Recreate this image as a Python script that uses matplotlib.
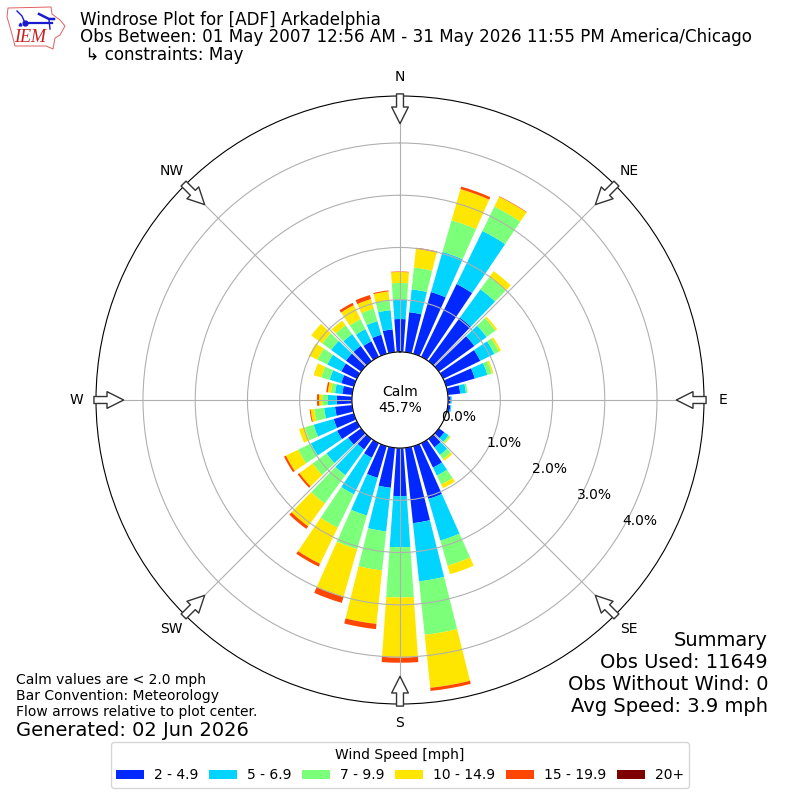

import matplotlib

matplotlib.use("Agg")
import matplotlib.pyplot as plt
import numpy as np
from matplotlib.patches import Polygon

DIRECTIONS = np.arange(0, 360, 10)
BIN_LABELS = ["2 - 4.9", "5 - 6.9", "7 - 9.9", "10 - 14.9", "15 - 19.9", "20+"]
BIN_COLORS = ["#0028ff", "#00d4ff", "#7cff79", "#ffe600", "#ff4600", "#7f0000"]

SPEED_2_5 = [0.63, 0.77, 1.23, 1.55, 1.03, 0.84, 0.79, 0.57, 0.24, 0.05, 0.05, 0.00,
             0.00, 0.13, 0.20, 0.52, 1.05, 1.45, 0.92, 0.77, 0.63, 0.31, 0.25, 0.31,
             0.42, 0.40, 0.33, 0.29, 0.19, 0.25, 0.33, 0.36, 0.36, 0.33, 0.38, 0.44]
SPEED_5_7 = [0.37, 0.44, 0.80, 1.13, 0.67, 0.29, 0.30, 0.25, 0.11, 0.02, 0.02, 0.00,
             0.00, 0.10, 0.18, 0.17, 0.83, 1.12, 0.98, 0.84, 0.75, 0.78, 0.61, 0.51,
             0.56, 0.40, 0.21, 0.17, 0.14, 0.23, 0.30, 0.35, 0.28, 0.26, 0.27, 0.37]
SPEED_7_10 = [0.32, 0.42, 0.63, 0.52, 0.29, 0.21, 0.10, 0.09, 0.03, 0.00, 0.00, 0.00,
              0.00, 0.03, 0.10, 0.19, 0.50, 1.03, 0.96, 0.75, 0.67, 0.71, 0.67, 0.33,
              0.27, 0.18, 0.19, 0.11, 0.08, 0.17, 0.21, 0.21, 0.21, 0.21, 0.25, 0.19]
SPEED_10_15 = [0.21, 0.36, 0.62, 0.21, 0.14, 0.04, 0.04, 0.03, 0.00, 0.00, 0.00, 0.00,
               0.00, 0.02, 0.04, 0.08, 0.17, 1.02, 1.15, 1.03, 0.95, 0.77, 0.54, 0.31,
               0.26, 0.11, 0.07, 0.06, 0.06, 0.15, 0.18, 0.26, 0.11, 0.30, 0.19, 0.17]
SPEED_15_20 = [0.01, 0.02, 0.05, 0.01, 0.00, 0.00, 0.00, 0.00, 0.00, 0.00, 0.00, 0.00,
               0.00, 0.00, 0.00, 0.00, 0.00, 0.06, 0.10, 0.10, 0.12, 0.06, 0.06, 0.04,
               0.04, 0.00, 0.02, 0.04, 0.03, 0.00, 0.00, 0.00, 0.00, 0.05, 0.08, 0.02]
SPEED_20_UP = [0.0] * 36

COMPASS_LABELS = ["N", "NE", "E", "SE", "S", "SW", "W", "NW"]
R_TICKS = [0, 1, 2, 3, 4]
R_MAX = 4.9
R_ORIGIN = -0.92
BAR_WIDTH_DEG = 8

TITLE_LINES = [
    "Windrose Plot for [ADF] Arkadelphia",
    "Obs Between: 01 May 2007 12:56 AM - 31 May 2026 11:55 PM America/Chicago",
    " \u21b3 constraints: May",
]
FOOTER_LINES = [
    "Calm values are < 2.0 mph",
    "Bar Convention: Meteorology",
    "Flow arrows relative to plot center.",
]
SUMMARY_LINES = ["Summary", "Obs Used: 11649", "Obs Without Wind: 0", "Avg Speed: 3.9 mph"]

IOWA_OUTLINE = [(8, 8), (51, 7), (52, 14), (60, 20), (65, 26), (60, 35), (55, 38), (53, 49),
                (46, 46), (15, 46), (13, 38), (10, 27), (7, 17)]


def draw_logo(fig):
    ax = fig.add_axes([0, 1 - 55 / 800, 75 / 800, 55 / 800])
    ax.set_xlim(0, 75)
    ax.set_ylim(55, 0)
    ax.axis("off")
    ax.add_patch(Polygon(IOWA_OUTLINE, closed=True, fill=False, edgecolor="#e06060", lw=0.7))
    ax.plot([25, 52], [23, 23], color="#1a1ad0", lw=1.6)
    ax.plot([25], [23], "o", color="#1a1ad0", ms=3.5)
    ax.plot([17, 22, 25], [11, 16, 23], color="#1a1ad0", lw=1)
    ax.plot([39, 49, 54], [14, 19, 19], color="#1a1ad0", lw=1.8)
    ax.plot([49, 50], [20, 29], color="#1a1ad0", lw=1)
    ax.plot([20], [24], "^", color="#1a1ad0", ms=2)
    ax.text(30, 38, "IEM", color="#c81e1e", family="Liberation Serif", style="italic",
            fontsize=13, ha="center", va="center")


def main():
    fig = plt.figure(figsize=(8, 8), dpi=100)
    ax = fig.add_axes([0.12, 0.12, 0.76, 0.76], projection="polar")
    ax.set_theta_zero_location("N")
    ax.set_theta_direction(-1)

    theta = np.deg2rad(DIRECTIONS)
    width = np.deg2rad(BAR_WIDTH_DEG)
    series = [SPEED_2_5, SPEED_5_7, SPEED_7_10, SPEED_10_15, SPEED_15_20, SPEED_20_UP]
    base = np.zeros(len(DIRECTIONS))
    for values, label, color in zip(series, BIN_LABELS, BIN_COLORS):
        ax.bar(theta, values, width=width, bottom=base, color=color, label=label, lw=0)
        base = base + np.array(values)

    ax.set_rorigin(R_ORIGIN)
    ax.set_rlim(0, R_MAX)
    ax.set_yticks(R_TICKS)
    ax.set_yticklabels([f"{tick:.1f}%" for tick in R_TICKS])
    ax.set_rlabel_position(120)
    ax.set_xticks(np.deg2rad(np.arange(0, 360, 45)))
    ax.set_xticklabels(COMPASS_LABELS)
    ax.grid(True)

    # hollow arrows pointing at the plot center
    for angle in np.deg2rad(np.arange(0, 360, 45)):
        ax.annotate("", xy=(angle, R_MAX - 0.53), xytext=(angle, R_MAX + 0.04),
                    arrowprops=dict(facecolor="white", edgecolor="#333333", width=5,
                                    headwidth=12, headlength=12, lw=1, shrink=0),
                    annotation_clip=False, zorder=5)

    ax.text(0.5, 0.5, "Calm\n45.7%", transform=ax.transAxes, ha="center", va="center",
            fontsize=10)

    for line, ypx in zip(TITLE_LINES, [20, 37.5, 55.5]):
        fig.text(0.1, 1 - ypx / 800, line, fontsize=12.05, va="center")

    for line, ypx in zip(FOOTER_LINES, [680, 696, 712]):
        fig.text(16 / 800, 1 - ypx / 800, line, fontsize=10, va="center")
    fig.text(16 / 800, 1 - 730 / 800, "Generated: 02 Jun 2026", fontsize=14, va="center")
    for line, ypx in zip(SUMMARY_LINES, [640, 662, 684, 706]):
        fig.text(768 / 800, 1 - ypx / 800, line, fontsize=14, ha="right", va="center")

    fig.legend(loc="center", bbox_to_anchor=(0.5, 1 - 765 / 800), ncol=6,
               title="Wind Speed [mph]", fontsize=10, handlelength=2.0, handletextpad=0.7,
               columnspacing=0.8)

    draw_logo(fig)
    fig.savefig("out.png", dpi=100)
    plt.close(fig)


if __name__ == "__main__":
    main()
